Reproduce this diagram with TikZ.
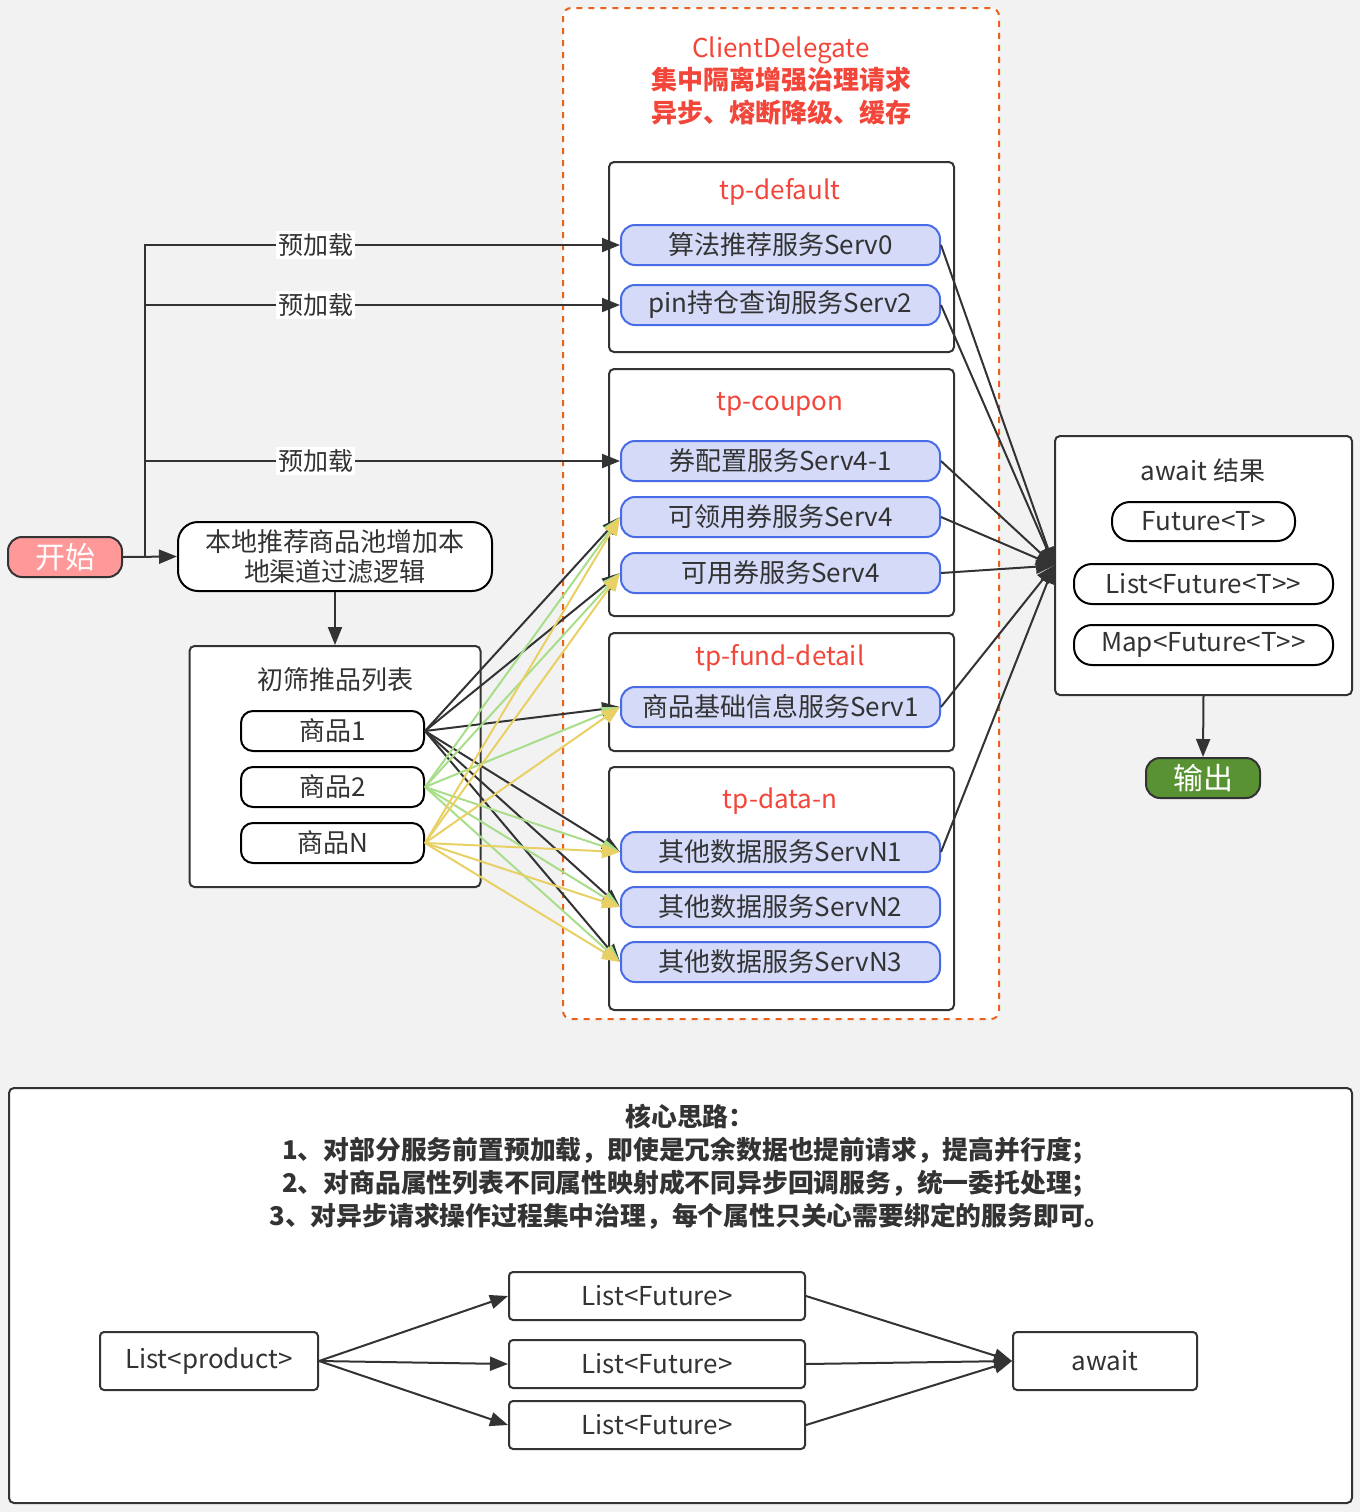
\documentclass[tikz,border=0pt]{standalone}
\usepackage{fontspec}
\setmainfont{Noto Sans CJK SC}
\usetikzlibrary{arrows.meta}

\definecolor{bggray}{HTML}{F2F2F2}
\definecolor{linegray}{HTML}{333333}
\definecolor{delegorange}{RGB}{232,98,30}
\definecolor{titlered}{RGB}{242,70,58}
\definecolor{servfill}{RGB}{212,218,248}
\definecolor{servblue}{RGB}{72,108,230}
\definecolor{linkgreen}{RGB}{168,222,138}
\definecolor{linkyellow}{RGB}{232,208,100}
\definecolor{startred}{HTML}{FF9999}
\definecolor{endgreen}{RGB}{88,146,50}

\tikzstyle{groupbox}=[draw=linegray,fill=white,line width=1pt,rounded corners=2.5pt,inner sep=0pt]
\tikzstyle{grouplabel}=[text=titlered,font=\fontsize{13}{15}\selectfont]
\tikzstyle{servbox}=[draw=servblue,fill=servfill,line width=1pt,rounded corners=7pt,minimum width=159.5pt,minimum height=20pt,inner sep=0pt,text=linegray,font=\fontsize{13}{15}\selectfont]
\tikzstyle{pillbox}=[draw=black,fill=white,line width=1pt,rounded corners=6pt,minimum height=20pt,inner sep=0pt,text=linegray,font=\fontsize{13}{15}\selectfont]
\tikzstyle{flowbox}=[draw=linegray,fill=white,line width=1pt,rounded corners=2pt,inner sep=0pt,text=linegray,font=\fontsize{13}{15}\selectfont]
\tikzstyle{plaintext}=[text=linegray,font=\fontsize{13}{15}\selectfont]
\tikzstyle{preload}=[fill=white,inner sep=1pt,text=linegray,font=\fontsize{12.5}{14}\selectfont]
\tikzstyle{arrowk}=[draw=linegray,line width=1pt,-{Triangle[length=9pt,width=7pt]}]
\tikzstyle{linkarrow}=[line width=1pt,-{Triangle[length=9pt,width=7pt]}]

\begin{document}
\begin{tikzpicture}[x=0.5pt,y=-0.5pt]
    \useasboundingbox (0,0) rectangle (1360,1512);
    \fill[bggray] (0,0) rectangle (1360,1512);

    % ClientDelegate region
    \draw[delegorange,dashed,line width=1pt,fill=white,rounded corners=4pt] (563,8) rectangle (999,1019);
    \node[text=titlered,align=center,font=\fontsize{13}{16.25}\selectfont] (title) at (781,81)
        {ClientDelegate\\\textbf{集中隔离增强治理请求}\\\textbf{异步、熔断降级、缓存}};

    % thread pools
    \node[groupbox,minimum width=172.5pt,minimum height=95pt] (gdef) at (781.5,257) {};
    \node[groupbox,minimum width=172.5pt,minimum height=123.5pt] (gcou) at (781.5,492.5) {};
    \node[groupbox,minimum width=172.5pt,minimum height=59pt] (gfund) at (781.5,692) {};
    \node[groupbox,minimum width=172.5pt,minimum height=121.5pt] (gdata) at (781.5,888.5) {};
    \node[grouplabel] (ldef) at (780,192) {tp-default};
    \node[grouplabel] (lcou) at (780,404) {tp-coupon};
    \node[grouplabel] (lfund) at (780,658) {tp-fund-detail};
    \node[grouplabel] (ldata) at (780,801) {tp-data-n};

    \node[servbox] (s0) at (780.5,245) {算法推荐服务Serv0};
    \node[servbox] (s2) at (780.5,305) {pin持仓查询服务Serv2};
    \node[servbox] (s41) at (780.5,461) {券配置服务Serv4-1};
    \node[servbox] (s4a) at (780.5,517) {可领用券服务Serv4};
    \node[servbox] (s4b) at (780.5,573) {可用券服务Serv4};
    \node[servbox] (s1) at (780.5,707) {商品基础信息服务Serv1};
    \node[servbox] (n1) at (780.5,852) {其他数据服务ServN1};
    \node[servbox] (n2) at (780.5,907) {其他数据服务ServN2};
    \node[servbox] (n3) at (780.5,962) {其他数据服务ServN3};

    % left side
    \node[pillbox,fill=startred,draw=linegray,text=white,minimum width=57pt,rounded corners=7pt,
        font=\fontsize{15}{17}\selectfont] (start) at (65,557) {开始};
    \node[pillbox,minimum width=157pt,minimum height=34.5pt,rounded corners=10pt,align=center] (local) at (335,556.5)
        {本地推荐商品池增加本\\地渠道过滤逻辑};
    \node[groupbox,minimum width=145.5pt,minimum height=120.5pt] (plist) at (335,766.5) {};
    \node[plaintext] (lplist) at (335,680) {初筛推品列表};
    \node[pillbox,minimum width=91.5pt] (g1) at (332.5,731) {商品1};
    \node[pillbox,minimum width=91.5pt] (g2) at (332.5,787) {商品2};
    \node[pillbox,minimum width=91.5pt] (gN) at (332.5,843) {商品N};

    % right side
    \node[groupbox,minimum width=148.5pt,minimum height=129.5pt] (await) at (1203.5,565.5) {};
    \node[plaintext] (lawait) at (1203,471) {await 结果};
    \node[pillbox,minimum width=91.5pt,minimum height=19.5pt,rounded corners=9pt] (fut) at (1203.5,521.5) {Future<T>};
    \node[pillbox,minimum width=129.5pt,rounded corners=9pt] (lfut) at (1203.5,584) {List<Future<T>{}>};
    \node[pillbox,minimum width=129.5pt,rounded corners=9pt] (mfut) at (1203.5,645) {Map<Future<T>{}>};
    \node[pillbox,fill=endgreen,draw=linegray,text=white,minimum width=57pt,rounded corners=7pt,
        font=\fontsize{15}{17}\selectfont] (out) at (1203,778) {输出};

    % edges
    \draw[arrowk] (start.east) -- (local.west);
    \foreach \to in {s0,s2,s41}
        \draw[arrowk] (start.east) -- ++(22,0) |- (\to.west) node[preload,pos=0.68] {预加载};
    \draw[arrowk] (local.south) -- (plist.north);

    \foreach \from/\col in {g1/linegray,g2/linkgreen,gN/linkyellow}
        \foreach \to in {s4a,s4b,s1,n1,n2,n3}
            \draw[linkarrow,draw=\col] (\from.east) -- (\to.west);

    \foreach \from in {s0,s2,s41,s4a,s4b,s1,n1}
        \draw[arrowk] (\from.east) -- (await.west);
    \draw[arrowk] (await.south) -- (out.north);

    % bottom notes
    \node[groupbox,minimum width=671.5pt,minimum height=207.5pt] (panel) at (680.5,1295.5) {};
    \node[text=linegray,align=center,font=\bfseries\fontsize{12.9}{16.5}\selectfont] (notes) at (690,1167)
        {核心思路：\\
         1、对部分服务前置预加载，即使是冗余数据也提前请求，提高并行度；\\
         2、对商品属性列表不同属性映射成不同异步回调服务，统一委托处理；\\
         3、对异步请求操作过程集中治理，每个属性只关心需要绑定的服务即可。};

    \node[flowbox,minimum width=109pt,minimum height=29pt] (lprod) at (209,1361) {List<product>};
    \node[flowbox,minimum width=148pt,minimum height=24pt] (lf1) at (657,1296) {List<Future>};
    \node[flowbox,minimum width=148pt,minimum height=24pt] (lf2) at (657,1364) {List<Future>};
    \node[flowbox,minimum width=148pt,minimum height=24pt] (lf3) at (657,1425) {List<Future>};
    \node[flowbox,minimum width=92pt,minimum height=29pt] (aw) at (1105,1361) {await};

    \foreach \from/\to in {lprod/lf1,lprod/lf2,lprod/lf3,lf1/aw,lf2/aw,lf3/aw}
        \draw[arrowk] (\from.east) -- (\to.west);
\end{tikzpicture}
\end{document}
